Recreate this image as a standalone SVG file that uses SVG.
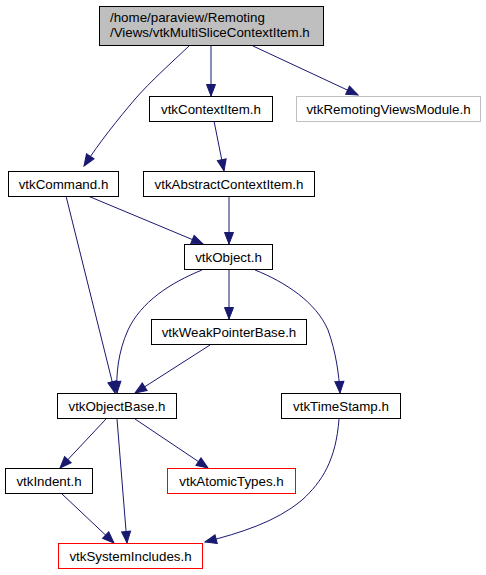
<svg xmlns="http://www.w3.org/2000/svg" width="486" height="575" viewBox="0 0 486 575">
<style>
text{font-family:"Liberation Sans",Arial,sans-serif;font-size:13.33px;fill:#000;text-anchor:middle}
.n rect{fill:#fff;stroke:#000;stroke-width:1}
.red rect{stroke:#ff0000}
.grey rect{stroke:#bfbfbf}
.top rect{fill:#bfbfbf}
.top text{text-anchor:start}
#edges path{fill:none;stroke:#191970;stroke-width:1;marker-end:url(#ah)}
</style>
<defs>
<marker id="ah" markerUnits="userSpaceOnUse" markerWidth="14" markerHeight="12" viewBox="0 0 14 12" refX="12.5" refY="6" orient="auto">
<path d="M1,1.5 L12.5,6 L1,10.5 z" fill="#191970" stroke="#191970" stroke-width="1"/>
</marker>
</defs>
<rect width="486" height="575" fill="#fff"/>
<g id="edges">
<path d="M189,46 C171,63 150,82 136,98 C118,119 99,143 84,166"/>
<path d="M211,46 L211,96"/>
<path d="M253,46 L358,95"/>
<path d="M214,121 L224,171"/>
<path d="M229,196 L229,244"/>
<path d="M88,196 L203,244"/>
<path d="M66,196 L115,393"/>
<path d="M202,270 C170,283 141,302 128,330 C118,352 116,375 117,393"/>
<path d="M229,270 L229,319"/>
<path d="M210,345 L135,393"/>
<path d="M255,270 C285,282 316,302 328,330 C336,352 339,375 340,393"/>
<path d="M106,419 L60,468"/>
<path d="M117,419 L127,543"/>
<path d="M135,419 L208,468"/>
<path d="M62,494 L114,543"/>
<path d="M339,419 C336,460 322,482 302,500 C276,522 240,533 205,542"/>
</g>
<g id="n_top" class="n top"><rect x="99.5" y="6.5" width="224" height="39"/><text x="110" y="22">/home/paraview/Remoting</text><text x="110" y="37">/Views/vtkMultiSliceContextItem.h</text></g>
<g id="n_contextitem" class="n"><rect x="149.5" y="96.5" width="123" height="25"/><text x="211" y="113.5">vtkContextItem.h</text></g>
<g id="n_module" class="n grey"><rect x="296.5" y="96.5" width="184" height="25"/><text x="388.5" y="113.5">vtkRemotingViewsModule.h</text></g>
<g id="n_command" class="n"><rect x="8.5" y="171.5" width="110" height="25"/><text x="63.5" y="188.5">vtkCommand.h</text></g>
<g id="n_abstract" class="n"><rect x="143.5" y="171.5" width="171" height="25"/><text x="229" y="188.5">vtkAbstractContextItem.h</text></g>
<g id="n_object" class="n"><rect x="184.5" y="244.5" width="88" height="25"/><text x="228.5" y="261.5">vtkObject.h</text></g>
<g id="n_weak" class="n"><rect x="151.5" y="319.5" width="155" height="25"/><text x="229" y="336.5">vtkWeakPointerBase.h</text></g>
<g id="n_objectbase" class="n"><rect x="57.5" y="393.5" width="119" height="25"/><text x="117" y="410.5">vtkObjectBase.h</text></g>
<g id="n_timestamp" class="n"><rect x="281.5" y="393.5" width="119" height="25"/><text x="341" y="410.5">vtkTimeStamp.h</text></g>
<g id="n_indent" class="n"><rect x="5.5" y="468.5" width="87" height="25"/><text x="49" y="485.5">vtkIndent.h</text></g>
<g id="n_atomic" class="n red"><rect x="167.5" y="468.5" width="128" height="25"/><text x="231.5" y="485.5">vtkAtomicTypes.h</text></g>
<g id="n_sysinc" class="n red"><rect x="58.5" y="543.5" width="144" height="25"/><text x="130.5" y="560.5">vtkSystemIncludes.h</text></g>
</svg>
